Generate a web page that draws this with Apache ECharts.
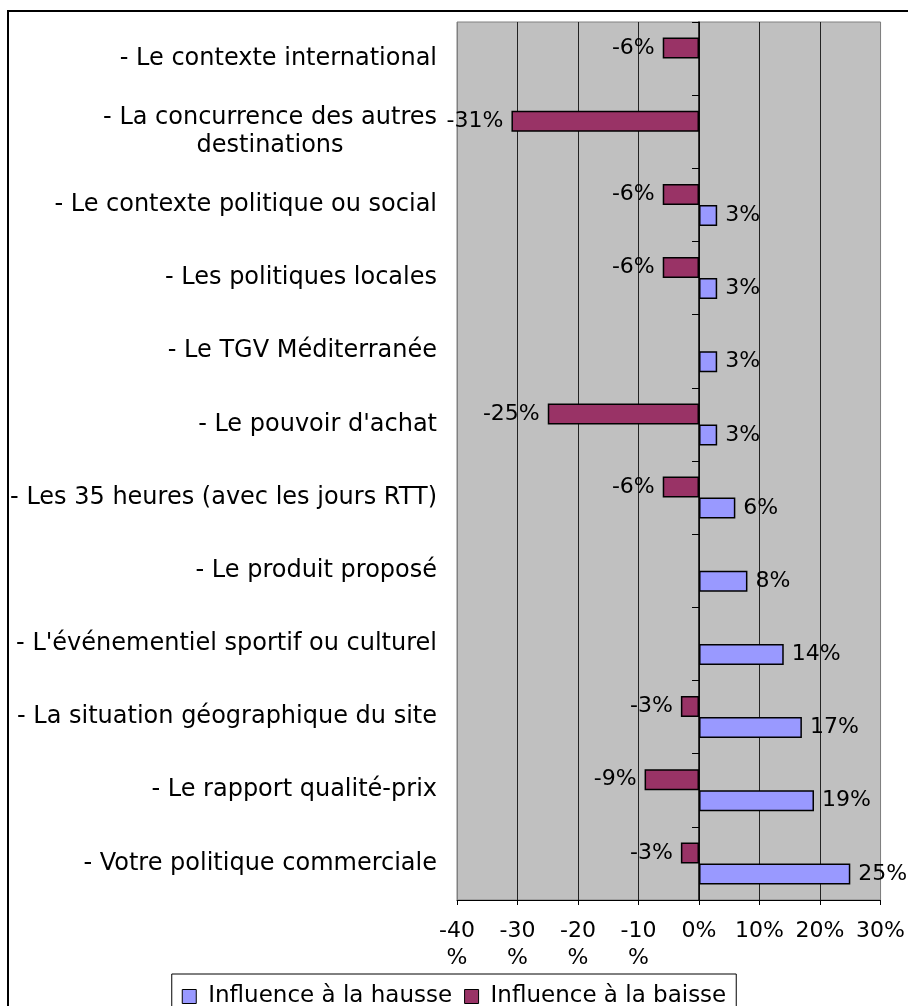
<!DOCTYPE html>
<html>
<head>
<meta charset="utf-8">
<script src="https://cdn.jsdelivr.net/npm/echarts@6/dist/echarts.min.js"></script>
<style>
  html, body { margin: 0; padding: 0; background: #fff; }
  #chart { width: 908px; height: 1006px; }
</style>
</head>
<body>
<div id="chart"></div>
<script>
// categories, top to bottom
const categories = [
  '- Le contexte international',
  '- La concurrence des autres\ndestinations',
  '- Le contexte politique ou social',
  '- Les politiques locales',
  '- Le TGV Méditerranée',
  "- Le pouvoir d'achat",
  '- Les 35 heures (avec les jours RTT)',
  '- Le produit proposé',
  "- L'événementiel sportif ou culturel",
  '- La situation géographique du site',
  '- Le rapport qualité-prix',
  '- Votre politique commerciale'
];
const hausseName = 'Influence à la hausse';
const baisseName = 'Influence à la baisse';
const hausse = [null, null, 3, 3, 3, 3, 6, 8, 14, 17, 19, 25];
const baisse = [-6, -31, -6, -6, null, -25, -6, null, null, -3, -9, -3];
const xMin = -40, xMax = 30, xStep = 10;

const font = 'DejaVu Sans';
const chart = echarts.init(document.getElementById('chart'));

const option = {
  animation: false,
  backgroundColor: '#fff',
  textStyle: { fontFamily: font, color: '#000' },
  graphic: [{
    type: 'rect',
    silent: true,
    shape: { x: 8, y: 11, width: 1000, height: 1000 },
    style: { fill: 'none', stroke: '#000', lineWidth: 2 }
  }],
  grid: {
    left: 457, right: 27, top: 22, bottom: 106,
    show: true, backgroundColor: '#c0c0c0', borderColor: '#808080', borderWidth: 1
  },
  legend: {
    data: [hausseName, baisseName],
    left: 'center',
    top: 974,
    padding: [11, 10, 12, 10],
    borderColor: '#000',
    borderWidth: 1,
    itemWidth: 14,
    itemHeight: 14,
    itemGap: 12,
    icon: 'rect',
    itemStyle: { borderColor: '#000', borderWidth: 1 },
    textStyle: { fontFamily: font, fontSize: 23, color: '#000', padding: [0, 0, 0, 7] }
  },
  xAxis: {
    type: 'value',
    min: xMin, max: xMax, interval: xStep,
    axisLine: { show: true, lineStyle: { color: '#000', width: 1 } },
    axisTick: { show: true, length: 5, lineStyle: { color: '#000' } },
    axisLabel: {
      fontFamily: font, fontSize: 22, color: '#000', margin: 18, lineHeight: 27,
      formatter: v => v < 0 ? v + '\n%' : v + '%'
    },
    splitLine: {
      show: true,
      lineStyle: { color: ['#808080', '#222', '#222', '#222', '#222', '#222', '#222', '#808080'], width: 1 }
    }
  },
  yAxis: [{
    type: 'category',
    data: categories,
    inverse: true,
    axisLine: { show: false, onZero: false },
    axisTick: { show: false },
    axisLabel: {
      margin: 20,
      formatter: v => v.split('\n').map(l => '{c|' + l + '}').join('\n'),
      rich: { c: { fontFamily: font, fontSize: 24, color: '#000', align: 'center', lineHeight: 28 } }
    }
  }, {
    type: 'category',
    data: categories,
    inverse: true,
    position: 'left',
    axisLine: { show: true, onZero: true, lineStyle: { color: '#000', width: 1.5 } },
    axisTick: { show: true, length: 7, lineStyle: { color: '#000' } },
    axisLabel: { show: false }
  }],
  series: [{
    name: baisseName,
    type: 'bar',
    yAxisIndex: 0,
    data: baisse,
    barWidth: 21,
    barGap: '0%',
    itemStyle: { color: '#993366', borderColor: '#000', borderWidth: 1.5 },
    label: {
      show: true, position: 'left', distance: 8,
      fontFamily: font, fontSize: 22, color: '#000',
      formatter: p => p.value + '%'
    }
  }, {
    name: hausseName,
    type: 'bar',
    yAxisIndex: 0,
    data: hausse,
    barWidth: 21,
    barGap: '0%',
    itemStyle: { color: '#9999ff', borderColor: '#000', borderWidth: 1.5 },
    label: {
      show: true, position: 'right', distance: 8,
      fontFamily: font, fontSize: 22, color: '#000',
      formatter: p => p.value + '%'
    }
  }]
};

chart.setOption(option);
</script>
</body>
</html>
